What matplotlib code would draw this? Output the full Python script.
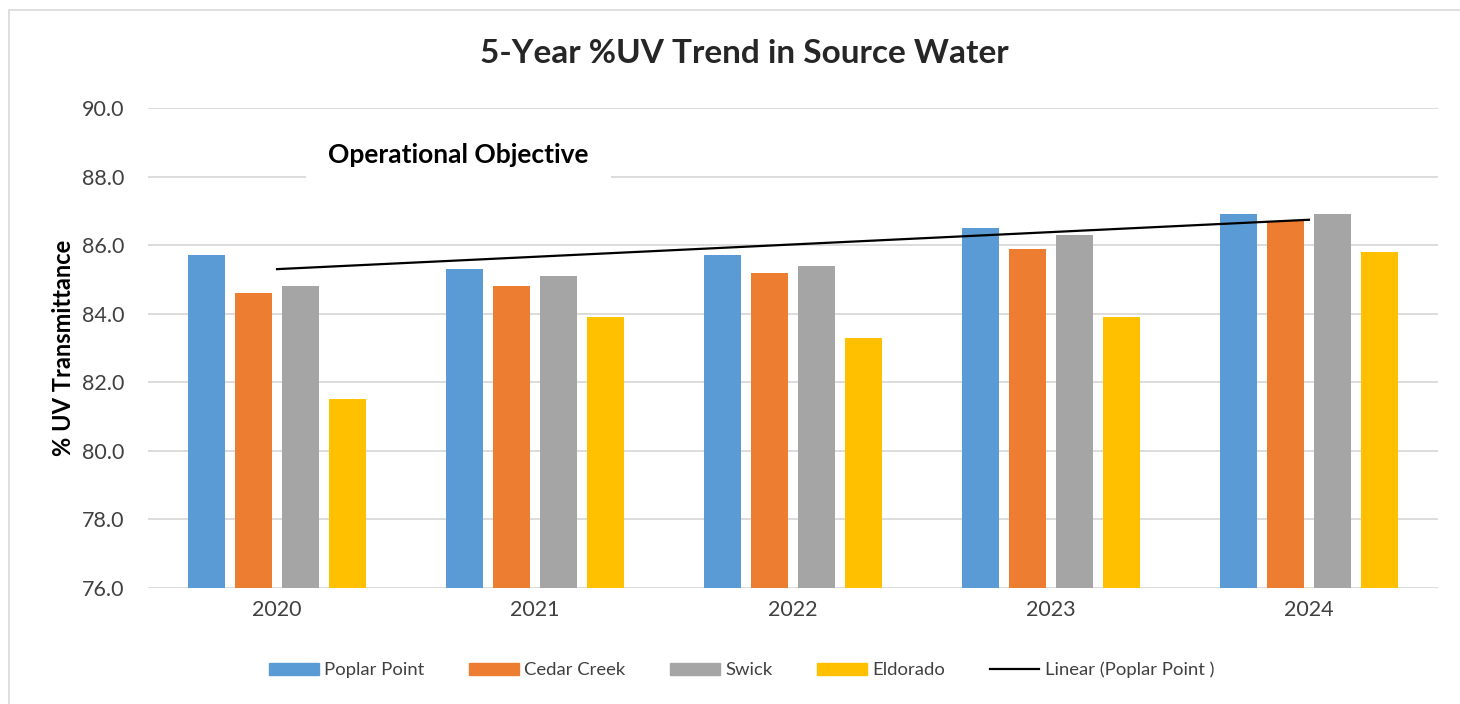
import matplotlib.pyplot as plt
import numpy as np
from matplotlib.patches import Rectangle
from matplotlib.lines import Line2D

plt.rcParams['font.family'] = ['Lato', 'DejaVu Sans']

# data
years = ['2020', '2021', '2022', '2023', '2024']
poplar = [85.7, 85.3, 85.7, 86.5, 86.9]
cedar = [84.6, 84.8, 85.2, 85.9, 86.7]
swick = [84.8, 85.1, 85.4, 86.3, 86.9]
eldorado = [81.5, 83.9, 83.3, 83.9, 85.8]
series = ['Poplar Point', 'Cedar Creek', 'Swick', 'Eldorado']
colors = ['#5B9BD5', '#ED7D31', '#A5A5A5', '#FFC000']

fig = plt.figure(figsize=(14.6, 7.04), dpi=100)
ax = fig.add_axes([0.1014, 0.1648, 0.8835, 0.6818])

x = np.arange(len(years))
w = 0.143
step = 0.182
for i, (vals, c) in enumerate(zip([poplar, cedar, swick, eldorado], colors)):
    ax.bar(x + (i - 1.5) * step, np.array(vals) - 76, bottom=76, width=w,
           color=c, zorder=3, label=series[i])

# linear trend of Poplar Point
k, b = np.polyfit(x, poplar, 1)
ax.plot(x, k * x + b, color='black', lw=1.6, zorder=4)

ax.set_xlim(-0.5, 4.5)
ax.set_ylim(76, 90)
ax.set_yticks(np.arange(76, 90.1, 2))
ax.set_yticklabels([f'{v:.1f}' for v in np.arange(76, 90.1, 2)])
ax.set_xticks(x)
ax.set_xticklabels(years)
ax.tick_params(length=0, labelsize=15.5, colors='#404040', pad=9)
ax.tick_params(axis='y', pad=17)
ax.grid(axis='y', color='#D9D9D9', lw=1.3, zorder=0)
for s in ax.spines.values():
    s.set_visible(False)

ax.set_ylabel('% UV Transmittance', fontsize=17, fontweight='bold', labelpad=5)

ax.text(0.198, 88.63, 'Operational Objective', fontsize=19, fontweight='bold',
        va='center', ha='left', zorder=5,
        bbox=dict(facecolor='white', edgecolor='none', pad=16))

fig.text(0.51, 0.924, '5-Year %UV Trend in Source Water', fontsize=24,
         fontweight='bold', ha='center', va='center', color='#262626')

handles = [Rectangle((0, 0), 1, 1, color=c) for c in colors]
handles.append(Line2D([0], [0], color='black', lw=1.6))
labels = series + ['Linear (Poplar Point )']
fig.legend(handles, labels, loc='center', bbox_to_anchor=(0.508, 0.048), ncol=5,
           frameon=False, fontsize=13.3, handlelength=2.7, handleheight=0.65,
           columnspacing=2.4, handletextpad=0.3, labelcolor='#404040')

# chart border (only top and left visible in the crop)
fig.patches.append(Rectangle((0.0065, -0.1), 1.2, 1.0865, transform=fig.transFigure,
                             fill=False, edgecolor='#D9D9D9', lw=1.2))

fig.savefig('out.png', dpi=100)
